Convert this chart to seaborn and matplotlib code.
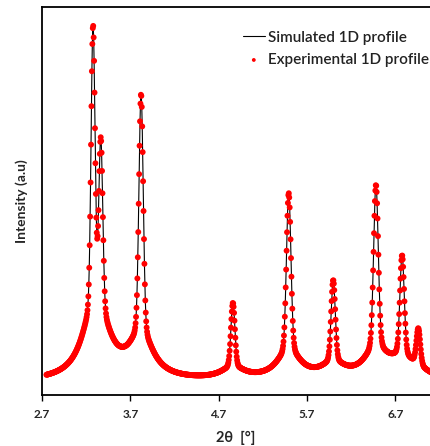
import numpy as np
import pandas as pd
import seaborn as sns
import matplotlib
matplotlib.use("Agg")
import matplotlib.pyplot as plt

# Peak parameters (2theta position, height above base, core width)
peak_centers = [3.278, 3.366, 3.822, 4.862, 5.494, 5.998, 6.482, 6.778, 6.962]
peak_heights = [328, 198, 280, 75, 185, 95, 190, 116, 42]
peak_sigmas = [0.022, 0.022, 0.024, 0.022, 0.025, 0.023, 0.026, 0.024, 0.022]
tail_fraction = 0.17
tail_halfwidth = 0.15
base_level = 13

x_start, x_end, x_step = 2.75, 7.12, 0.005
tick_values = [2.7, 3.7, 4.7, 5.7, 6.7]
tick_labels = ["2.7", "3.7", "4.7", "5.7", "6.7"]

x = np.arange(x_start, x_end, x_step)
y = np.full_like(x, base_level, dtype=float)
for c, h, s in zip(peak_centers, peak_heights, peak_sigmas):
    d = x - c
    core = np.exp(-d**2 / (2 * s**2))
    tail = tail_halfwidth**2 / (tail_halfwidth**2 + d**2)
    y += h * ((1 - tail_fraction) * core + tail_fraction * tail)

df = pd.DataFrame({"two_theta": x, "intensity": y})

sns.set_style("white")
plt.rcParams["font.family"] = ["Lato", "DejaVu Sans"]

fig = plt.figure(figsize=(4.30, 4.46), dpi=100)
ax = fig.add_axes([42/430, 51/446, 388/430, 388/446])

sns.lineplot(data=df, x="two_theta", y="intensity", color="black", lw=0.8,
             ax=ax, label="Simulated 1D profile", zorder=2)
sns.scatterplot(data=df, x="two_theta", y="intensity", color="#ff0000", s=18,
                edgecolor="none", linewidth=0, ax=ax, label="Experimental 1D profile",
                zorder=3)

ax.set_xlim(2.7, 2.7 + 388/88.3)
ax.set_ylim(0, 388)
ax.set_xticks(tick_values)
ax.set_xticklabels(tick_labels, fontweight="bold", fontsize=8.5)
ax.set_yticks([])
ax.tick_params(axis="x", direction="out", length=4, width=1, color="black", pad=6, bottom=True)
for side in ["left", "bottom", "top"]:
    ax.spines[side].set_color("black")
    ax.spines[side].set_linewidth(1.3)
ax.spines["right"].set_visible(False)

ax.set_xlabel("2θ  [°]", fontweight="bold", fontsize=10.5, labelpad=8)
ax.set_ylabel("Intensity (a.u)", fontweight="bold", fontsize=10, labelpad=10)

leg = ax.legend(loc="upper right", bbox_to_anchor=(1.013, 0.955), frameon=False,
                prop={"size": 11, "weight": "semibold"}, handlelength=1.45,
                handletextpad=0.2, labelspacing=0.55,
                markerscale=0.65, borderaxespad=0.0)
for t in leg.get_texts():
    t.set_color("#222222")

fig.savefig("out.png", dpi=100)
